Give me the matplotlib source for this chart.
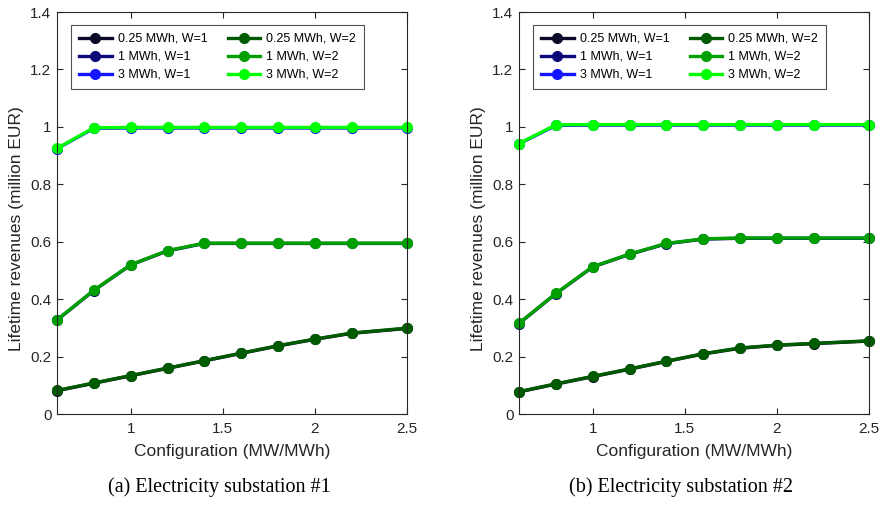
import numpy as np
import matplotlib
matplotlib.use("Agg")
import matplotlib.pyplot as plt

plt.rcParams['font.family'] = ['Liberation Sans', 'DejaVu Sans']

# configurations (MW/MWh)
config = [0.6, 0.8, 1.0, 1.2, 1.4, 1.6, 1.8, 2.0, 2.2, 2.5]

# substation #1 (million EUR)
s1_025_w1 = [0.081, 0.107, 0.133, 0.159, 0.185, 0.211, 0.237, 0.260, 0.281, 0.298]
s1_1_w1 = [0.327, 0.430, 0.519, 0.568, 0.594, 0.594, 0.594, 0.594, 0.594, 0.594]
s1_3_w1 = [0.924, 0.995, 0.996, 0.996, 0.996, 0.996, 0.996, 0.996, 0.996, 0.996]
s1_025_w2 = [0.082, 0.108, 0.134, 0.160, 0.186, 0.212, 0.238, 0.261, 0.282, 0.299]
s1_1_w2 = [0.328, 0.431, 0.520, 0.569, 0.595, 0.595, 0.595, 0.595, 0.595, 0.595]
s1_3_w2 = [0.925, 0.997, 0.998, 0.998, 0.998, 0.998, 0.998, 0.998, 0.998, 0.998]

# substation #2 (million EUR)
s2_025_w1 = [0.077, 0.104, 0.130, 0.156, 0.183, 0.209, 0.229, 0.239, 0.245, 0.254]
s2_1_w1 = [0.315, 0.419, 0.512, 0.556, 0.593, 0.609, 0.612, 0.612, 0.612, 0.612]
s2_3_w1 = [0.941, 1.005, 1.006, 1.006, 1.006, 1.006, 1.006, 1.006, 1.006, 1.006]
s2_025_w2 = [0.078, 0.105, 0.131, 0.157, 0.184, 0.210, 0.230, 0.240, 0.246, 0.255]
s2_1_w2 = [0.316, 0.420, 0.513, 0.557, 0.594, 0.610, 0.613, 0.613, 0.613, 0.613]
s2_3_w2 = [0.942, 1.007, 1.008, 1.008, 1.008, 1.008, 1.008, 1.008, 1.008, 1.008]

labels = ["0.25 MWh, W=1", "1 MWh, W=1", "3 MWh, W=1",
          "0.25 MWh, W=2", "1 MWh, W=2", "3 MWh, W=2"]
colors = ["#0a0a28", "#0a0a78", "#1414ff", "#005a00", "#00a000", "#00ff00"]

panels = [
    ([s1_025_w1, s1_1_w1, s1_3_w1, s1_025_w2, s1_1_w2, s1_3_w2], "(a) Electricity substation #1"),
    ([s2_025_w1, s2_1_w1, s2_3_w1, s2_025_w2, s2_1_w2, s2_3_w2], "(b) Electricity substation #2"),
]

fig = plt.figure(figsize=(8.87, 5.05), dpi=100)
lefts = [57 / 887, 519 / 887]
w = 350 / 887
bottom = 1 - 414 / 505
h = (414 - 12) / 505

for (series, caption), left in zip(panels, lefts):
    ax = fig.add_axes([left, bottom, w, h])
    for vals, lab, col in zip(series, labels, colors):
        ax.plot(config, vals, '-o', color=col, lw=2.4, ms=7,
                mfc=col, mec=col, label=lab, clip_on=False)
    ax.set_xlim(0.6, 2.5)
    ax.set_ylim(0, 1.4)
    ax.set_xticks([1, 1.5, 2, 2.5])
    ax.set_xticklabels(["1", "1.5", "2", "2.5"])
    ax.set_yticks([0, 0.2, 0.4, 0.6, 0.8, 1.0, 1.2, 1.4])
    ax.set_yticklabels(["0", "0.2", "0.4", "0.6", "0.8", "1", "1.2", "1.4"])
    ax.tick_params(direction='in', top=True, right=True, labelsize=11,
                   colors='#262626', length=4.5, width=0.8)
    ax.tick_params(axis='x', pad=6)
    ax.tick_params(axis='y', pad=4)
    for sp in ax.spines.values():
        sp.set_color('#262626')
        sp.set_linewidth(0.8)
    ax.set_xlabel("Configuration (MW/MWh)", fontsize=12.5, color='#262626')
    ax.xaxis.set_label_coords(0.5, -0.075)
    ax.set_ylabel("Lifetime revenues (million EUR)", fontsize=12.5, color='#262626')
    ax.yaxis.set_label_coords(-0.093, 0.46)
    leg = ax.legend(ncol=2, loc='upper left', bbox_to_anchor=(0.04, 0.968),
                    fontsize=9, frameon=True, fancybox=False, edgecolor='#262626',
                    handlelength=2.6, columnspacing=1.6, labelspacing=0.48,
                    borderpad=0.65, handletextpad=0.5, borderaxespad=0)
    leg.get_frame().set_linewidth(0.8)
    fig.text(left + w / 2 - 13 / 887, 1 - 487 / 505, caption, ha='center', va='center',
             fontsize=14.5, family='Liberation Serif')

fig.savefig("out.png", dpi=100)
